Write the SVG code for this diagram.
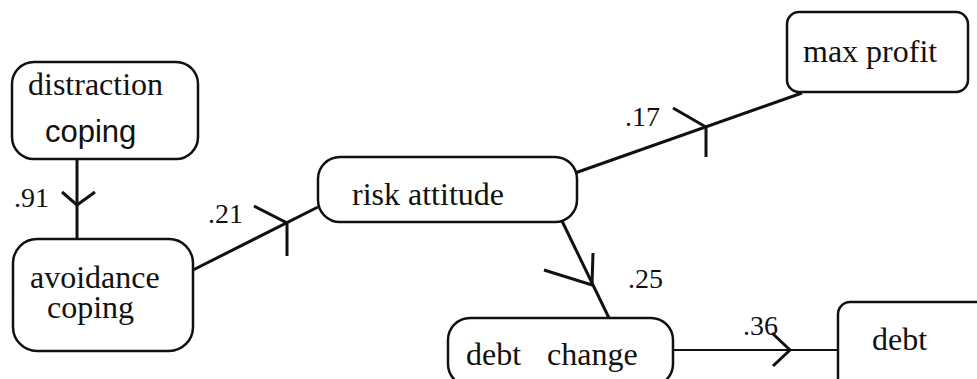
<svg xmlns="http://www.w3.org/2000/svg" width="977" height="379" viewBox="0 0 977 379">
  <style>
    .box { fill: #ffffff; stroke: #111111; stroke-width: 2.5; }
    .lbl { font-family: "Liberation Serif", "Times New Roman", serif; font-size: 32px; fill: #111111; }
    .sans { font-family: "Liberation Sans", Arial, sans-serif; font-size: 31px; fill: #111111; }
    .coef { font-family: "Liberation Serif", "Times New Roman", serif; font-size: 28px; fill: #111111; }
    .edge { fill: none; stroke: #111111; stroke-width: 3; stroke-linecap: butt; stroke-linejoin: miter; }
    .thin { stroke-width: 2.2; }
  </style>
  <rect width="977" height="379" fill="#ffffff"/>

  <g id="connectors">
    <!-- distraction coping -> avoidance coping -->
    <line class="edge" x1="77" y1="159" x2="77" y2="239"/>
    <polyline class="edge" points="62,192 77,205 95,192"/>
    <text class="coef" x="14" y="207">.91</text>

    <!-- avoidance coping -> risk attitude -->
    <line class="edge" x1="193" y1="270" x2="318" y2="207"/>
    <polyline class="edge" points="254,206 287,223 287,256"/>
    <text class="coef" x="208" y="223">.21</text>

    <!-- risk attitude -> max profit -->
    <line class="edge" x1="575" y1="173" x2="802" y2="93"/>
    <polyline class="edge" points="673,108 706,127 706,157"/>
    <text class="coef" x="625" y="126">.17</text>

    <!-- risk attitude -> debt change -->
    <line class="edge" x1="562" y1="221" x2="609" y2="318"/>
    <polyline class="edge" points="544,270 592,285 593,253"/>
    <text class="coef" x="628" y="288">.25</text>

    <!-- debt change -> debt -->
    <line class="edge thin" x1="673" y1="350" x2="838" y2="350"/>
    <polyline class="edge" points="772,333 790,350 773,366"/>
    <text class="coef" x="743" y="335">.36</text>
  </g>

  <g id="distraction-coping">
    <rect class="box" x="12" y="62" width="186" height="97" rx="22"/>
    <text class="lbl" x="28" y="95">distraction</text>
    <text class="sans" x="45" y="142">coping</text>
  </g>

  <g id="avoidance-coping">
    <rect class="box" x="13" y="239" width="180" height="112" rx="24"/>
    <text class="lbl" x="30" y="288">avoidance</text>
    <text class="lbl" x="47" y="318">coping</text>
  </g>

  <g id="risk-attitude">
    <rect class="box" x="318" y="157" width="259" height="65" rx="22"/>
    <text class="lbl" x="352" y="205">risk attitude</text>
  </g>

  <g id="max-profit">
    <rect class="box" x="787" y="12" width="181" height="80" rx="12"/>
    <text class="lbl" x="803" y="62">max profit</text>
  </g>

  <g id="debt-change">
    <rect class="box" x="448" y="318" width="225" height="68" rx="22"/>
    <text class="lbl" x="466" y="365">debt</text>
    <text class="lbl" x="547" y="365">change</text>
  </g>

  <g id="debt">
    <rect class="box" x="838" y="302" width="160" height="100" rx="12"/>
    <text class="lbl" x="872" y="350">debt</text>
  </g>
</svg>
